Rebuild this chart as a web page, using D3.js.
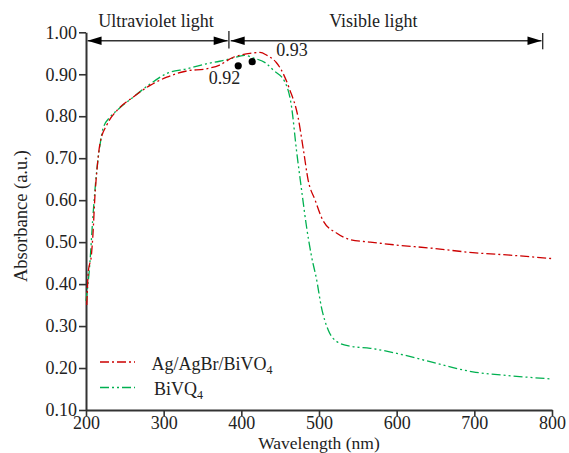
<!DOCTYPE html>
<html>
<head>
<meta charset="utf-8">
<script src="https://cdn.jsdelivr.net/npm/d3@7/dist/d3.min.js"></script>
<style>
  html, body { margin: 0; padding: 0; background: #fff; }
</style>
</head>
<body>
<svg id="chart" width="569" height="453"></svg>
<script>
// UV-vis absorbance spectra
const agWavelength = [201, 203, 207, 209, 211.5, 214, 218, 227, 240, 261, 282, 304, 330, 355, 372, 389, 400, 411, 424, 433, 445, 450, 462, 473, 480, 486, 495, 505, 523, 540, 566, 600, 643, 698, 746, 799];
const agAbsorbance = [0.35, 0.43, 0.47, 0.52, 0.61, 0.67, 0.735, 0.78, 0.814, 0.846, 0.873, 0.893, 0.908, 0.913, 0.922, 0.94, 0.946, 0.95, 0.952, 0.945, 0.928, 0.915, 0.865, 0.798, 0.719, 0.648, 0.6, 0.552, 0.521, 0.506, 0.5, 0.493, 0.486, 0.475, 0.469, 0.461];

const biWavelength = [200, 205, 208.5, 213.8, 218, 222, 231, 240, 261, 282, 304, 330, 355, 372, 388, 404, 417, 432, 441, 456, 464.7, 471, 477.6, 484, 490.5, 497, 503, 512, 523, 540, 566, 600, 643, 698, 750, 799];
const biAbsorbance = [0.36, 0.45, 0.55, 0.67, 0.731, 0.771, 0.798, 0.814, 0.846, 0.876, 0.902, 0.913, 0.925, 0.931, 0.938, 0.945, 0.938, 0.926, 0.91, 0.882, 0.822, 0.719, 0.624, 0.536, 0.465, 0.41, 0.346, 0.29, 0.263, 0.252, 0.247, 0.235, 0.215, 0.191, 0.181, 0.174];

const seriesNames = ["Ag/AgBr/BiVO", "BiVQ"];
const seriesSubscripts = ["4", "4"];

const xTicks = [200, 300, 400, 500, 600, 700, 800];
const yTicks = [0.10, 0.20, 0.30, 0.40, 0.50, 0.60, 0.70, 0.80, 0.90, 1.00];

// marked absorption maxima
const peakWavelength = [396, 414];
const peakValue = [0.92, 0.93];

// spectral regions shown by the arrows above the plot
const regionNames = ["Ultraviolet light", "Visible light"];
const regionStart = [202, 384];
const regionEnd = [384, 788];
const regionLabelAt = [290, 570];

const serif = "'Liberation Serif', Tinos, 'Times New Roman', 'DejaVu Serif', serif";
const textColor = "#222";

const svg = d3.select("#chart");
const plotLeft = 86, plotRight = 552, plotTop = 32.3, plotBottom = 410;

const x = d3.scaleLinear().domain([200, 800]).range([plotLeft, plotRight]);
const y = d3.scaleLinear().domain([0.1, 1.0]).range([plotBottom, plotTop]);

const axisColor = "#333";

function label(sel, size) {
  return sel.style("font-family", serif).style("font-size", size + "px").style("fill", textColor);
}

// axes
const gx = svg.append("g").attr("transform", `translate(0,${plotBottom})`)
  .call(d3.axisBottom(x).tickValues(xTicks).tickFormat(d3.format("d")).tickSize(6).tickSizeOuter(0).tickPadding(0));
const gy = svg.append("g").attr("transform", `translate(${plotLeft},0)`)
  .call(d3.axisLeft(y).tickValues(yTicks).tickFormat(d3.format(".2f")).tickSize(7).tickSizeOuter(0).tickPadding(2));
[gx, gy].forEach(g => {
  g.attr("font-family", null).attr("font-size", null);
  g.select(".domain").attr("stroke", axisColor).attr("stroke-width", 2);
  g.selectAll(".tick line").attr("stroke", axisColor).attr("stroke-width", 1.6);
  label(g.selectAll(".tick text"), 18);
});

label(svg.append("text"), 17.5).attr("x", (plotLeft + plotRight) / 2).attr("y", 448.5)
  .attr("text-anchor", "middle").text("Wavelength (nm)");
label(svg.append("text"), 18.5).attr("transform", "translate(27,216) rotate(-90)")
  .attr("text-anchor", "middle").text("Absorbance (a.u.)");

// spectra
const line = d3.line().x(d => x(d[0])).y(d => y(d[1])).curve(d3.curveMonotoneX);
const agData = agWavelength.map((w, i) => [w, agAbsorbance[i]]);
const biData = biWavelength.map((w, i) => [w, biAbsorbance[i]]);
const colors = ["#cc0000", "#00b050"];
const dashes = ["9,3,2,3", "9,3,2,3,2,3"];

svg.append("path").datum(biData).attr("d", line).attr("fill", "none")
  .attr("stroke", colors[1]).attr("stroke-width", 1.3).attr("stroke-dasharray", dashes[1]);
svg.append("path").datum(agData).attr("d", line).attr("fill", "none")
  .attr("stroke", colors[0]).attr("stroke-width", 1.3).attr("stroke-dasharray", dashes[0]);

// peak markers
const labelDx = [2, 24];
const labelDy = [17.7, -5.4];
const anchors = ["end", "start"];
peakWavelength.forEach((w, i) => {
  svg.append("circle").attr("cx", x(w)).attr("cy", y(peakValue[i])).attr("r", 3.6).attr("fill", "#000");
  label(svg.append("text"), 18).attr("x", x(w) + labelDx[i]).attr("y", y(peakValue[i]) + labelDy[i])
    .attr("text-anchor", anchors[i]).text(d3.format(".2f")(peakValue[i]));
});

// region arrows
const arrowY = 40.7;
function arrowHead(tipX, dir) {
  const len = 14, half = 4.2;
  return `M${tipX},${arrowY} L${tipX + dir * len},${arrowY - half} L${tipX + dir * len},${arrowY + half} Z`;
}
regionNames.forEach((name, i) => {
  const x0 = x(regionStart[i]) + (i === 0 ? 0 : 1.8);
  const x1 = x(regionEnd[i]) - 1.2;
  svg.append("line").attr("x1", x0).attr("x2", x1).attr("y1", arrowY).attr("y2", arrowY)
    .attr("stroke", axisColor).attr("stroke-width", 1.6);
  svg.append("path").attr("d", arrowHead(x0, 1)).attr("fill", "#000");
  svg.append("path").attr("d", arrowHead(x1, -1)).attr("fill", "#000");
  svg.append("line").attr("x1", x(regionEnd[i])).attr("x2", x(regionEnd[i]))
    .attr("y1", i === 0 ? 31 : 33).attr("y2", i === 0 ? 48.5 : 49.3)
    .attr("stroke", axisColor).attr("stroke-width", 1.4);
  label(svg.append("text"), 18).attr("x", x(regionLabelAt[i])).attr("y", 27)
    .attr("text-anchor", "middle").text(name);
});

// legend
const legendY = [362, 387.5];
const legendTextX = [151.5, 154];
seriesNames.forEach((name, i) => {
  svg.append("line").attr("x1", 100).attr("x2", 135).attr("y1", legendY[i]).attr("y2", legendY[i])
    .attr("stroke", colors[i]).attr("stroke-width", 1.3).attr("stroke-dasharray", dashes[i]);
  const t = label(svg.append("text"), 18).attr("x", legendTextX[i]).attr("y", legendY[i] + 7.5);
  t.append("tspan").text(name);
  t.append("tspan").style("font-size", "12px").attr("dy", 4).text(seriesSubscripts[i]);
});
</script>
</body>
</html>
